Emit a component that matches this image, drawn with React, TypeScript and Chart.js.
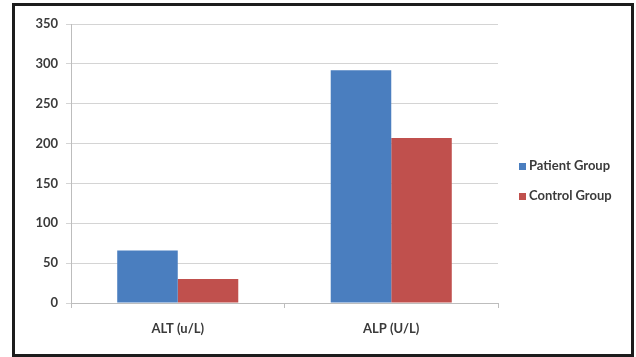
import React, { useEffect, useRef } from "react";
import { Chart, registerables } from "chart.js";

Chart.register(...registerables);

const categories: string[] = ["ALT (u/L)", "ALP (U/L)"];
const seriesNames: string[] = ["Patient Group", "Control Group"];
const patientValues: number[] = [66, 292];
const controlValues: number[] = [30, 207];
const seriesColors: string[] = ["#4A7EBF", "#C0504D"];
const yTicks: number[] = [0, 50, 100, 150, 200, 250, 300, 350];

const FONT = "Lato, 'Open Sans', sans-serif";
const TEXT = "#3a3a3a";

// Legend drawn to the right of the plot, stacked vertically
const sideLegend = {
  id: "sideLegend",
  afterDraw(chart: Chart) {
    const ctx = chart.ctx;
    const x = 519;
    const ys = [166, 196];
    ctx.save();
    ctx.font = `bold 13px ${FONT}`;
    ctx.textBaseline = "middle";
    ctx.textAlign = "left";
    chart.data.datasets.forEach((ds: any, i: number) => {
      const y = ys[i];
      ctx.fillStyle = ds.backgroundColor as string;
      ctx.fillRect(x, y - 3, 7, 7);
      ctx.fillStyle = TEXT;
      ctx.fillText(ds.label, x + 10, y);
    });
    ctx.restore();
  },
};

export default function App() {
  const ref = useRef<HTMLCanvasElement | null>(null);

  useEffect(() => {
    if (!ref.current) return;
    const chart = new Chart(ref.current, {
      type: "bar",
      data: {
        labels: categories,
        datasets: [
          { label: seriesNames[0], data: patientValues, backgroundColor: seriesColors[0] },
          { label: seriesNames[1], data: controlValues, backgroundColor: seriesColors[1] },
        ],
      },
      plugins: [sideLegend],
      options: {
        responsive: false,
        animation: false,
        devicePixelRatio: 1,
        layout: { padding: { left: 0, right: 138, top: 24, bottom: 0 } },
        datasets: {
          bar: { categoryPercentage: 0.567, barPercentage: 1.0, borderWidth: 0 },
        },
        plugins: {
          legend: { display: false },
          tooltip: { enabled: false },
        },
        scales: {
          x: {
            afterFit(scale: any) {
              scale.height = 54;
            },
            grid: {
              display: true,
              drawOnChartArea: false,
              drawTicks: true,
              tickLength: 5,
              color: "#bdbdbd",
              offset: true,
            },
            border: { display: true, color: "#bdbdbd", width: 1 },
            ticks: {
              color: TEXT,
              font: { family: FONT, size: 13, weight: "bold" },
              padding: 13,
              maxRotation: 0,
            },
          },
          y: {
            min: 0,
            max: 350,
            afterFit(scale: any) {
              scale.width = 71;
            },
            afterBuildTicks(scale: any) {
              scale.ticks = yTicks.map((v) => ({ value: v }));
            },
            grid: {
              color: "#d4d4d4",
              lineWidth: 1,
              tickLength: 5,
              drawTicks: true,
            },
            border: { display: true, color: "#bdbdbd", width: 1 },
            ticks: {
              color: TEXT,
              font: { family: FONT, size: 13, weight: "bold" },
              padding: 8,
            },
          },
        },
      },
    });
    return () => chart.destroy();
  }, []);

  return (
    <div
      style={{
        position: "absolute",
        left: 0,
        top: 0,
        width: 636,
        height: 357,
        background: "#ffffff",
        overflow: "hidden",
      }}
    >
      <canvas ref={ref} width={636} height={357} style={{ position: "absolute", left: 0, top: 0 }} />
      <div
        style={{
          position: "absolute",
          left: 12,
          top: 3,
          width: 622,
          height: 354,
          border: "3px solid #1c1c1c",
          boxSizing: "border-box",
          pointerEvents: "none",
        }}
      />
    </div>
  );
}
